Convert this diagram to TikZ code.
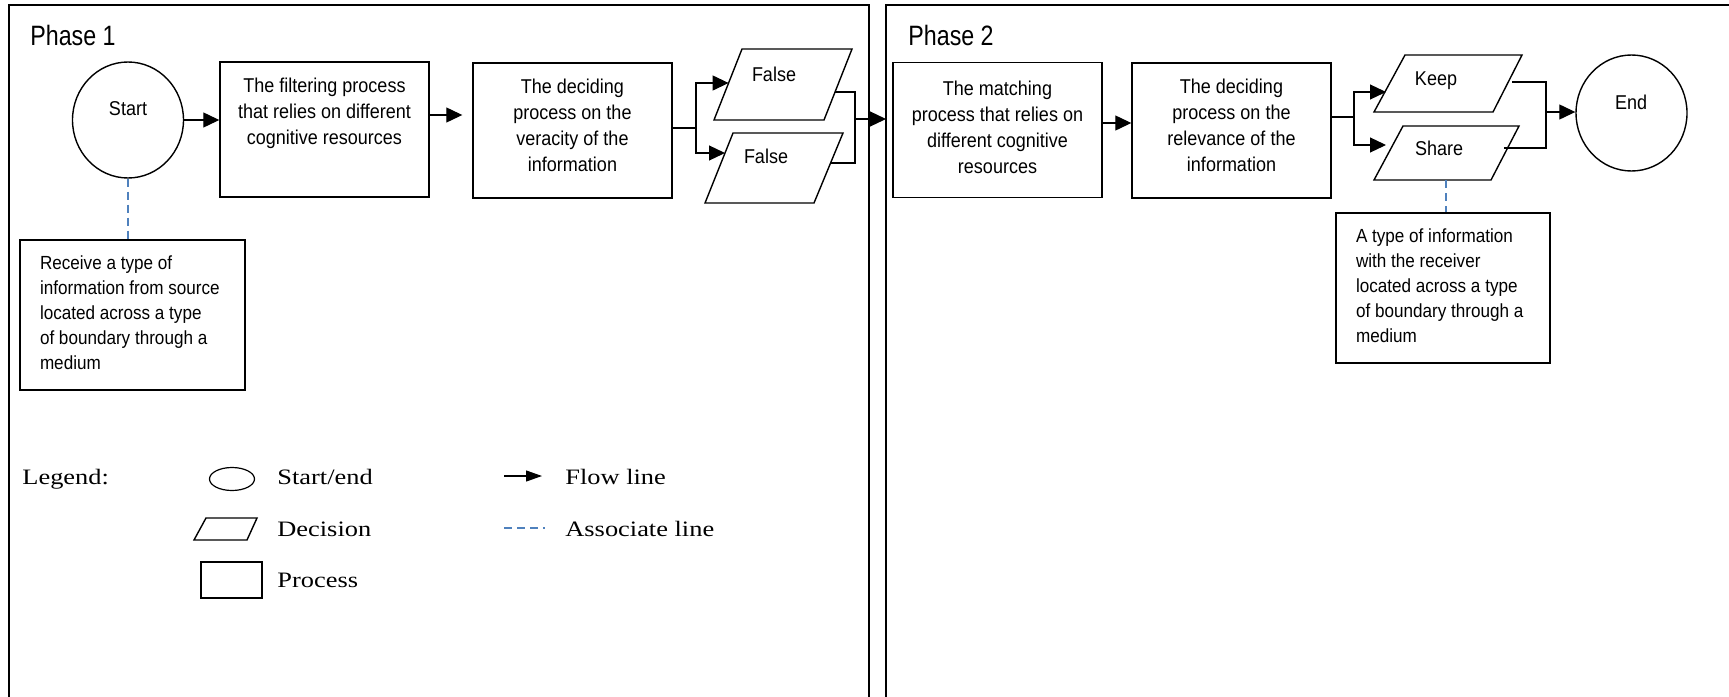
\documentclass[tikz,border=0pt]{standalone}
\usepackage{fontspec}
\setmainfont{Liberation Sans}[FakeStretch=0.9]
\newfontfamily\titlefont{Liberation Sans}[FakeStretch=0.83]
\newfontfamily\legendfont{Liberation Serif}[FakeStretch=1.2]
\usetikzlibrary{arrows.meta,shapes.geometric}
\definecolor{assoc}{RGB}{79,129,189}

% text inside a process box: top aligned, centred
\newcommand{\procparbox}[4]{\parbox[c][#2][t]{#1}{\centering\vspace*{#3}\strut #4}}
% text inside a note box: top aligned, flush left with a margin
\newcommand{\noteparbox}[4]{\parbox[c][#2][t]{#1}{\raggedright\leftskip=10pt\relax\vspace*{#3}\strut #4}}

\tikzset{
  frame/.style={line width=1pt},
  procbox/.style={draw, line width=0.7pt, inner sep=0pt, font=\fontsize{10}{13}\selectfont},
  notebox/.style={draw, line width=0.7pt, inner sep=0pt, font=\fontsize{9.5}{12.4}\selectfont},
  terminal/.style={draw, ellipse, line width=0.7pt, inner sep=0pt},
  decshape/.style={line width=0.7pt},
  lbl/.style={anchor=base, inner sep=0pt, font=\fontsize{10}{12}\selectfont},
  flow/.style={line width=0.6pt, -{Triangle[length=8pt,width=7.5pt]}},
  plain/.style={line width=0.6pt},
  assocline/.style={assoc, line width=0.6pt, dash pattern=on 4pt off 2.5pt},
  phasetitle/.style={anchor=base west, inner sep=0pt, font=\titlefont\fontsize{14}{16}\selectfont},
  legtext/.style={anchor=base west, inner sep=0pt, font=\legendfont\fontsize{11}{13}\selectfont},
}

\begin{document}
\begin{tikzpicture}[x=0.5pt, y=-0.5pt]
\useasboundingbox (0,0) rectangle (1729,696);

% phase frames (open at the bottom)
\draw[frame] (9,700) -- (9,5) -- (869,5) -- (869,700);
\draw[frame] (886,700) -- (886,5) -- (1735,5);
\node[phasetitle] (ph1) at (30,45) {Phase 1};
\node[phasetitle] (ph2) at (908,45) {Phase 2};

% ---------------- Phase 1 ----------------
\node[terminal, minimum width=55.5pt, minimum height=58pt] (start) at (128,120) {};
\node[lbl] (startlbl) at (128,115) {Start};

\node[procbox] (filter) at (324.5,129.5)
  {\procparbox{104.5pt}{67.5pt}{5.9pt}{The filtering process\\that relies on different\\cognitive resources}};
\node[procbox] (decide1) at (572.5,130.5)
  {\procparbox{99.5pt}{67.5pt}{5.9pt}{The deciding\\process on the\\veracity of the\\information}};

\node[notebox] (receive) at (132.5,315)
  {\noteparbox{112.5pt}{75pt}{6.3pt}{Receive a type of\\information from source\\located across a type\\of boundary through a\\medium}};

% decision outputs of phase 1
\draw[decshape] (742,49) -- (852,49) -- (824,120) -- (714,120) -- cycle;
\node[lbl] (false1) at (774,81) {False};
\draw[decshape] (733,133) -- (843,133) -- (814,203) -- (705,203) -- cycle;
\node[lbl] (false2) at (766,163) {False};

\coordinate (f1in) at (728.6,83);
\coordinate (f2in) at (725,153);
\coordinate (f1out) at (835,92);
\coordinate (f2out) at (831,163);
\coordinate (j1) at (696,128);
\coordinate (j2) at (855,119);
\coordinate (p2in) at (886,119);
\coordinate (fd) at (450,115);

\draw[flow] (start.east) -- (start.east -| filter.west);
\draw[flow, shorten >=5pt] (filter.east |- fd) -- (decide1.west |- fd);
\draw[plain] (decide1.east |- j1) -- (j1);
\draw[flow] (j1) |- (f1in);
\draw[flow] (j1) |- (f2in);
\draw[plain] (f1out) -| (j2);
\draw[plain] (f2out) -| (j2);
\draw[flow] (j2) -- (p2in);

\draw[assocline] (start.south) -- (start.south |- receive.north);

% ---------------- Phase 2 ----------------
\node[procbox] (match) at (997.5,130)
  {\procparbox{104.5pt}{67.5pt}{7.4pt}{The matching\\process that relies on\\different cognitive\\resources}};
\node[procbox] (rel) at (1231.5,130.5)
  {\procparbox{99.5pt}{67.5pt}{5.9pt}{The deciding\\process on the\\relevance of the\\information}};

\draw[decshape] (1405,55) -- (1522,55) -- (1493,112) -- (1374,112) -- cycle;
\node[lbl] (keep) at (1436,85) {Keep};
\draw[decshape] (1403,126) -- (1519,126) -- (1491,180) -- (1374,180) -- cycle;
\node[lbl] (share) at (1439,155) {Share};

\node[terminal, minimum width=55.5pt, minimum height=58pt] (end) at (1631.5,113) {};
\node[lbl] (endlbl) at (1631,109) {End};

\node[notebox] (info) at (1443,288)
  {\noteparbox{107pt}{75pt}{6.3pt}{A type of information\\with the receiver\\located across a type\\of boundary through a\\medium}};

\coordinate (mr) at (1115,123);
\coordinate (j3) at (1354,117);
\coordinate (keepin) at (1386,92);
\coordinate (sharein) at (1386,145);
\coordinate (keepout) at (1512,82);
\coordinate (shareout) at (1504,148);
\coordinate (j4) at (1546,112);
\coordinate (sharebot) at (1446,180);

\draw[flow] (match.east |- mr) -- (rel.west |- mr);
\draw[plain] (rel.east |- j3) -- (j3);
\draw[flow] (j3) |- (keepin);
\draw[flow] (j3) |- (sharein);
\draw[plain] (keepout) -| (j4);
\draw[plain] (shareout) -| (j4);
\draw[flow] (j4) -- (j4 -| end.west);
\draw[assocline] (sharebot) -- (sharebot |- info.north);

% ---------------- legend ----------------
\node[legtext] (legend) at (22,484) {Legend:};
\node[draw, ellipse, minimum width=22.5pt, minimum height=11.5pt, inner sep=0pt, line width=0.6pt] (legterm) at (232,479) {};
\node[legtext] (legterml) at (277,484) {Start/end};
\draw[decshape] (206,518) -- (257,518) -- (247,540) -- (194,540) -- cycle;
\node[legtext] (legdecl) at (277,536) {Decision};
\draw[decshape] (201,562) rectangle (262,598);
\node[legtext] (legprocl) at (277,587) {Process};
\draw[line width=0.6pt, -{Triangle[length=8pt,width=5.5pt]}] (504,476) -- (542,476);
\node[legtext] (legflowl) at (565,484) {Flow line};
\draw[assocline] (504,528) -- (545,528);
\node[legtext] (legassocl) at (565,536) {Associate line};
\end{tikzpicture}
\end{document}
